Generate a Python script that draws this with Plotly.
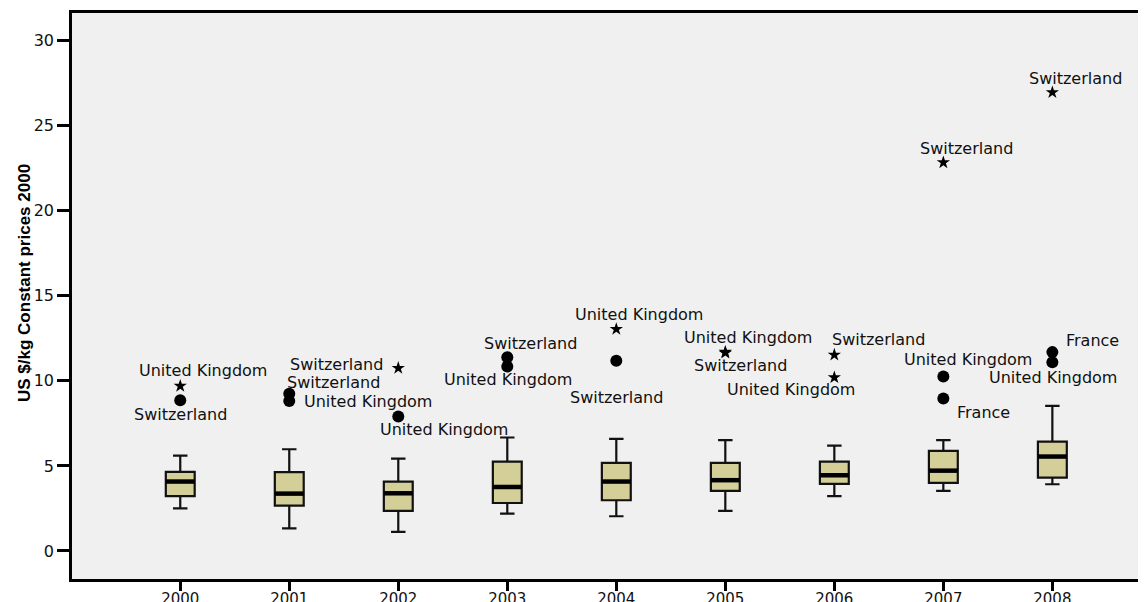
import plotly.graph_objects as go

# ---------------- data ----------------
years = ["2000", "2001", "2002", "2003", "2004", "2005", "2006", "2007", "2008"]
lower_whisker = [2.50, 1.33, 1.12, 2.19, 2.04, 2.35, 3.22, 3.53, 3.92]
q1 = [3.22, 2.67, 2.35, 2.82, 2.98, 3.53, 3.94, 4.00, 4.31]
median = [4.08, 3.37, 3.39, 3.76, 4.08, 4.16, 4.45, 4.72, 5.55]
q3 = [4.65, 4.63, 4.08, 5.25, 5.18, 5.18, 5.25, 5.88, 6.43]
upper_whisker = [5.60, 5.98, 5.43, 6.67, 6.59, 6.51, 6.19, 6.51, 8.53]

# outliers: year index, value, kind ("o" = outlier, "*" = extreme), country
out_year = [0, 0, 1, 1, 2, 2, 3, 3, 4, 4, 5, 5, 6, 6, 7, 7, 7, 8, 8, 8]
out_value = [9.70, 8.86, 9.24, 8.82, 10.75, 7.90, 11.39, 10.84, 13.04, 11.18,
             11.70, 11.65, 11.53, 10.20, 22.84, 10.25, 8.96, 26.96, 11.69, 11.10]
out_kind = ["*", "o", "o", "o", "*", "o", "o", "o", "*", "o",
            "*", "*", "*", "*", "*", "o", "o", "*", "o", "o"]
out_country = ["United Kingdom", "Switzerland", "Switzerland", "United Kingdom",
               "Switzerland", "United Kingdom", "Switzerland", "United Kingdom",
               "United Kingdom", "Switzerland", "United Kingdom", "Switzerland",
               "Switzerland", "United Kingdom", "Switzerland", "United Kingdom",
               "France", "Switzerland", "France", "United Kingdom"]

y_ticks = [0, 5, 10, 15, 20, 25, 30]
y_title = "US $/kg Constant prices 2000"

# ---------------- styles / label placement (pixels) ----------------
label_dx = [23, 0, 44, 79, -62, 46, 23, 1, 23, 0,
            23, 15, 44, -43, 23, 25, 40, 23, 40, 1]
label_dy = [15, -14, 11, -1, 4, -13, 14, -13, 15, -37,
            14, -13, 15, -12, 14, 17, -14, 14, 12, -15]

BOX_W = 0.265
FONT = "DejaVu Sans, Arial, sans-serif"
xs = list(range(len(years)))

fig = go.Figure()

fig.add_trace(go.Box(
    x=xs, q1=q1, median=median, q3=q3,
    lowerfence=lower_whisker, upperfence=upper_whisker,
    width=BOX_W, whiskerwidth=0.5,
    fillcolor="#d4cf98",
    line=dict(color="#111111", width=2.2),
    boxpoints=False, showlegend=False, hoverinfo="skip",
))

# thicker median bars
mx, my = [], []
for i, m in zip(xs, median):
    mx += [i - BOX_W / 2, i + BOX_W / 2, None]
    my += [m, m, None]
fig.add_trace(go.Scatter(x=mx, y=my, mode="lines",
                         line=dict(color="black", width=4.5),
                         showlegend=False, hoverinfo="skip"))

circ_x = [x for x, k in zip(out_year, out_kind) if k == "o"]
circ_y = [v for v, k in zip(out_value, out_kind) if k == "o"]
star_x = [x for x, k in zip(out_year, out_kind) if k == "*"]
star_y = [v for v, k in zip(out_value, out_kind) if k == "*"]

fig.add_trace(go.Scatter(x=circ_x, y=circ_y, mode="markers",
                         marker=dict(symbol="circle", size=12, color="black"),
                         showlegend=False, hoverinfo="skip"))
fig.add_trace(go.Scatter(x=star_x, y=star_y, mode="markers",
                         marker=dict(symbol="star", size=10, color="black"),
                         showlegend=False, hoverinfo="skip"))

annotations = []
for x, v, c, dx, dy in zip(out_year, out_value, out_country, label_dx, label_dy):
    annotations.append(dict(x=x, y=v, xref="x", yref="y", text=c,
                            showarrow=False, xanchor="center", yanchor="middle",
                            xshift=dx, yshift=dy,
                            font=dict(family=FONT, size=16, color="#111111")))

annotations.append(dict(xref="paper", yref="paper", x=0, y=0.523,
                        xshift=-47, text=y_title, textangle=-90,
                        showarrow=False, xanchor="center", yanchor="middle",
                        font=dict(family="Liberation Sans, Arial, sans-serif",
                                  size=17, color="black", weight="bold")))

fig.update_layout(
    width=1138, height=594,
    margin=dict(l=64, r=0, t=5, b=23, autoexpand=False),
    paper_bgcolor="white",
    plot_bgcolor="#f0f0f0",
    annotations=annotations,
    showlegend=False,
)

fig.update_xaxes(
    range=[-0.993, 8.859],
    tickvals=xs, ticktext=years,
    showgrid=False, zeroline=False, automargin=False,
    showline=True, linecolor="black", linewidth=2.5, mirror=True,
    ticks="outside", ticklen=9, tickwidth=2.5, tickcolor="black",
    ticklabelstandoff=-5,
    tickfont=dict(family=FONT, size=15, color="#111111"),
)
fig.update_yaxes(
    range=[-1.65, 31.63],
    tickvals=y_ticks, ticktext=[str(t) for t in y_ticks],
    showgrid=False, zeroline=False, automargin=False,
    showline=True, linecolor="black", linewidth=2.5,
    ticks="outside", ticklen=12, tickwidth=2.5, tickcolor="black",
    tickfont=dict(family=FONT, size=16, color="#111111"),
)

fig.write_html("out.html")
